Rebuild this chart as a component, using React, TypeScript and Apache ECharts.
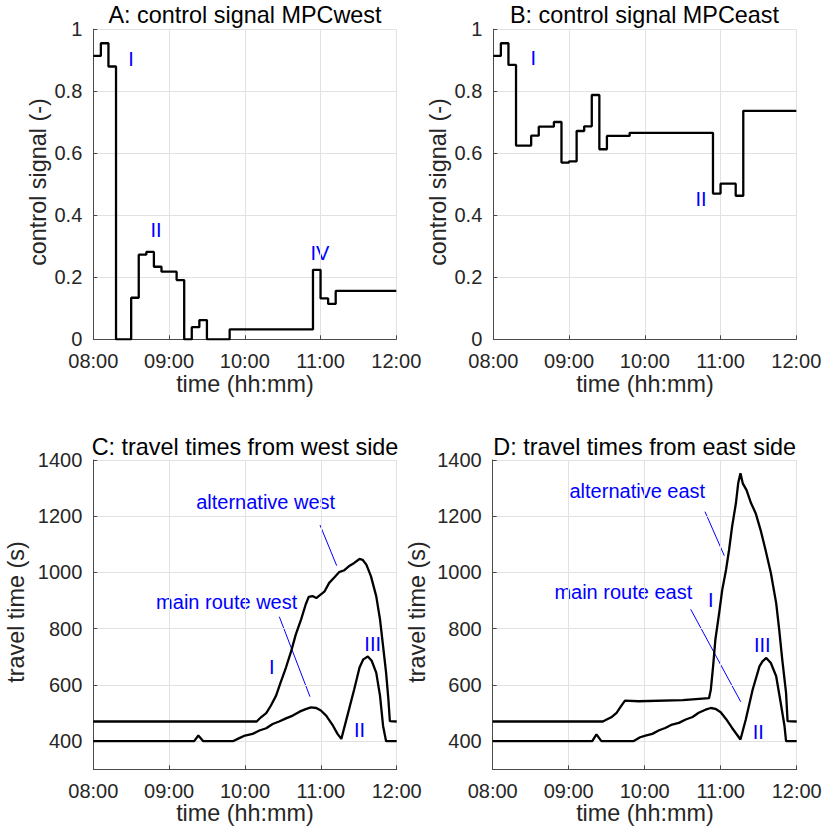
import React, { useEffect, useRef } from 'react';
import * as echarts from 'echarts';

// ---------- data ----------
const hourTicks = [8, 9, 10, 11, 12];

// A: control signal MPCwest (step changes: time in hours, value holds until next time)
const ctrlTimesWest = [8.0, 8.1, 8.2, 8.3, 8.5, 8.6, 8.7, 8.8, 8.9, 9.1, 9.2, 9.3, 9.4, 9.5, 9.8, 10.9, 11.0, 11.1, 11.2, 12.0];
const ctrlWest = [0.914, 0.955, 0.88, 0, 0.134, 0.273, 0.282, 0.234, 0.218, 0.191, 0, 0.039, 0.062, 0, 0.032, 0.224, 0.132, 0.114, 0.156, 0.156];

// B: control signal MPCeast
const ctrlTimesEast = [8.0, 8.1, 8.2, 8.3, 8.5, 8.6, 8.8, 8.9, 9.0, 9.1, 9.2, 9.3, 9.4, 9.5, 9.8, 10.9, 11.0, 11.2, 11.3, 12.0];
const ctrlEast = [0.914, 0.955, 0.885, 0.625, 0.657, 0.686, 0.701, 0.57, 0.574, 0.672, 0.687, 0.788, 0.613, 0.656, 0.666, 0.47, 0.502, 0.463, 0.737, 0.737];

// C: travel times from west side
const mainWestT = [8.0, 9.33, 9.385, 9.45, 9.84, 9.925, 10.0, 10.1, 10.19, 10.28, 10.365, 10.45, 10.54, 10.63, 10.72, 10.8, 10.87, 10.94, 11.0, 11.07, 11.16, 11.22, 11.27, 11.35, 11.44, 11.51, 11.56, 11.62, 11.67, 11.73, 11.78, 11.82, 11.86, 12.0];
const mainWestV = [400, 400, 420, 400, 400, 411, 420, 426, 438, 446, 461, 470, 481, 491, 505, 514, 520, 518, 509, 491, 455, 426, 408, 491, 585, 662, 691, 701, 686, 644, 562, 455, 400, 400];
const altWestT = [8.0, 10.154, 10.21, 10.28, 10.34, 10.41, 10.47, 10.54, 10.61, 10.67, 10.74, 10.8, 10.84, 10.89, 10.94, 10.98, 11.05, 11.11, 11.18, 11.24, 11.31, 11.38, 11.44, 11.51, 11.55, 11.6, 11.66, 11.73, 11.78, 11.82, 11.86, 11.89, 11.91, 12.0];
const altWestV = [470, 470, 485, 500, 526, 562, 609, 662, 721, 780, 833, 886, 913, 916, 909, 918, 933, 963, 983, 1001, 1008, 1024, 1034, 1048, 1045, 1028, 987, 916, 833, 739, 644, 550, 471, 470];

// D: travel times from east side
const mainEastT = [8.0, 9.31, 9.365, 9.43, 9.85, 9.94, 10.01, 10.1, 10.19, 10.27, 10.36, 10.45, 10.54, 10.63, 10.71, 10.8, 10.87, 10.93, 11.0, 11.07, 11.15, 11.26, 11.33, 11.42, 11.51, 11.55, 11.6, 11.66, 11.73, 11.79, 11.84, 11.86, 12.0];
const mainEastV = [400, 400, 424, 400, 400, 414, 420, 426, 439, 447, 459, 465, 477, 486, 501, 512, 518, 515, 503, 479, 447, 406, 477, 583, 666, 684, 696, 678, 631, 536, 453, 400, 400];
const altEastT = [8.0, 9.45, 9.5, 9.56, 9.63, 9.68, 9.74, 9.92, 10.5, 10.846, 10.87, 10.9, 10.93, 10.98, 11.02, 11.07, 11.11, 11.15, 11.2, 11.23, 11.26, 11.29, 11.34, 11.4, 11.46, 11.53, 11.59, 11.66, 11.73, 11.77, 11.81, 11.86, 11.88, 12.0];
const altEastV = [470, 470, 477, 485, 501, 521, 544, 542, 546, 553, 583, 666, 761, 856, 938, 1009, 1080, 1163, 1246, 1317, 1353, 1317, 1293, 1246, 1211, 1146, 1080, 998, 891, 796, 690, 572, 471, 470];

const titles = ['A: control signal MPCwest', 'B: control signal MPCeast', 'C: travel times from west side', 'D: travel times from east side'];
const yNames = ['control signal (-)', 'control signal (-)', 'travel time (s)', 'travel time (s)'];
const xName = 'time (hh:mm)';

// ---------- style / layout ----------
const FONT = '"Liberation Sans", Arial, Helvetica, sans-serif';
const AX = '#4a4a4a';
const LBL = '#262626';
const GRID = '#e2e2e2';
const BLUE = '#0000ff';
const BIG = 23.4;

const zip = (t: number[], v: number[]) => t.map((x, i) => [x, v[i]]);
const hh = (v: number) => (v < 10 ? '0' : '') + Math.round(v) + ':00';

const grids = [
  { left: 93.3, top: 29.3, width: 303, height: 310 },
  { left: 493.3, top: 29.3, width: 303, height: 310 },
  { left: 93.3, top: 460, width: 303.4, height: 309.3 },
  { left: 492.7, top: 460, width: 304, height: 309.3 },
];

const titlePos = [[245, 15], [644.5, 15], [245, 446.5], [644.7, 446.5]];
const xNamePos = [[245, 384], [645, 384], [245, 813], [645, 813]];
const yNamePos = [[38.3, 182], [438.3, 182], [16, 612], [416.7, 612]];

const annotTexts = [
  { t: 'I', x: 131, y: 59 },
  { t: 'II', x: 156, y: 230 },
  { t: 'IV', x: 320, y: 253 },
  { t: 'I', x: 533.3, y: 58.3 },
  { t: 'II', x: 701, y: 199 },
  { t: 'alternative west', x: 265.7, y: 501.7 },
  { t: 'main route west', x: 226.7, y: 602.3 },
  { t: 'I', x: 271.7, y: 666.7 },
  { t: 'II', x: 359.5, y: 730 },
  { t: 'III', x: 372.7, y: 643.5 },
  { t: 'alternative east', x: 637.3, y: 490.7 },
  { t: 'main route east', x: 623.3, y: 591.7 },
  { t: 'I', x: 710.7, y: 600 },
  { t: 'II', x: 758.3, y: 731.7 },
  { t: 'III', x: 762.3, y: 645 },
];
const annotLines = [
  [320, 525, 336.7, 565.7],
  [279.3, 616.7, 310, 696.7],
  [705, 511.7, 724.3, 555.7],
  [690.7, 609.3, 740.7, 701.7],
];

function textEl(text: string, x: number, y: number, size: number, color: string, rotation = 0) {
  return {
    type: 'text',
    x,
    y,
    rotation,
    silent: true,
    style: {
      text,
      x: 0,
      y: 0,
      fill: color,
      fontSize: size,
      fontFamily: FONT,
      align: 'center',
      verticalAlign: 'middle',
      textAlign: 'center',
      textVerticalAlign: 'middle',
    },
  };
}

export default function App() {
  const ref = useRef<HTMLDivElement>(null);

  useEffect(() => {
    document.body.style.margin = '0';
    document.body.style.overflow = 'hidden';
    if (!ref.current) return;
    const chart = echarts.init(ref.current, undefined, { renderer: 'svg' });

    const xAxes = grids.map((_, gi) => ({
      type: 'value',
      gridIndex: gi,
      min: hourTicks[0],
      max: hourTicks[hourTicks.length - 1],
      interval: 1,
      axisLine: { show: true, onZero: false, lineStyle: { color: AX, width: 1 } },
      axisTick: { show: true, inside: true, length: 4, lineStyle: { color: AX, width: 1 } },
      axisLabel: { formatter: (v: number) => hh(v), color: LBL, fontSize: 20, lineHeight: 18, fontFamily: FONT, margin: 12.5 },
      splitLine: { show: true, lineStyle: { color: GRID, width: 1 } },
    }));

    const yAxes = grids.map((_, gi) => {
      const base: any = {
        type: 'value',
        gridIndex: gi,
        axisLine: { show: true, onZero: false, lineStyle: { color: AX, width: 1 } },
        axisTick: { show: true, inside: true, length: 4, lineStyle: { color: AX, width: 1 } },
        axisLabel: { color: LBL, fontSize: 20, lineHeight: 18, fontFamily: FONT, margin: 11, formatter: (v: number) => String(v) },
        splitLine: { show: true, lineStyle: { color: GRID, width: 1 } },
      };
      if (gi < 2) {
        base.min = 0;
        base.max = 1;
        base.interval = 0.2;
      } else {
        base.min = 300;
        base.max = 1400;
        base.splitNumber = 5;
        base.axisLabel.showMinLabel = false;
      }
      return base;
    });

    const lineStyle = { color: '#000000', width: 2.3 };
    const mk = (data: number[][], gi: number, step?: string) => ({
      type: 'line',
      xAxisIndex: gi,
      yAxisIndex: gi,
      data,
      step: step || false,
      showSymbol: false,
      symbol: 'none',
      lineStyle,
      itemStyle: { color: '#000' },
      silent: true,
    });

    const series = [
      mk(zip(ctrlTimesWest, ctrlWest), 0, 'end'),
      mk(zip(ctrlTimesEast, ctrlEast), 1, 'end'),
      mk(zip(mainWestT, mainWestV), 2),
      mk(zip(altWestT, altWestV), 2),
      mk(zip(mainEastT, mainEastV), 3),
      mk(zip(altEastT, altEastV), 3),
    ];

    const graphics: any[] = [];
    titles.forEach((t, i) => graphics.push(textEl(t, titlePos[i][0], titlePos[i][1], BIG, '#000')));
    yNames.forEach((t, i) => graphics.push(textEl(t, yNamePos[i][0], yNamePos[i][1], BIG, LBL, Math.PI / 2)));
    xNamePos.forEach((p) => graphics.push(textEl(xName, p[0], p[1], BIG, LBL)));
    annotLines.forEach((l) =>
      graphics.push({
        type: 'line',
        silent: true,
        shape: { x1: l[0], y1: l[1], x2: l[2], y2: l[3] },
        style: { stroke: BLUE, lineWidth: 1 },
      })
    );
    annotTexts.forEach((a) => graphics.push(textEl(a.t, a.x, a.y, 20, BLUE)));

    chart.setOption({
      animation: false,
      backgroundColor: '#ffffff',
      grid: grids,
      xAxis: xAxes,
      yAxis: yAxes,
      series,
      graphic: { elements: graphics },
    });

    return () => chart.dispose();
  }, []);

  return <div ref={ref} style={{ width: 826, height: 829 }} />;
}
